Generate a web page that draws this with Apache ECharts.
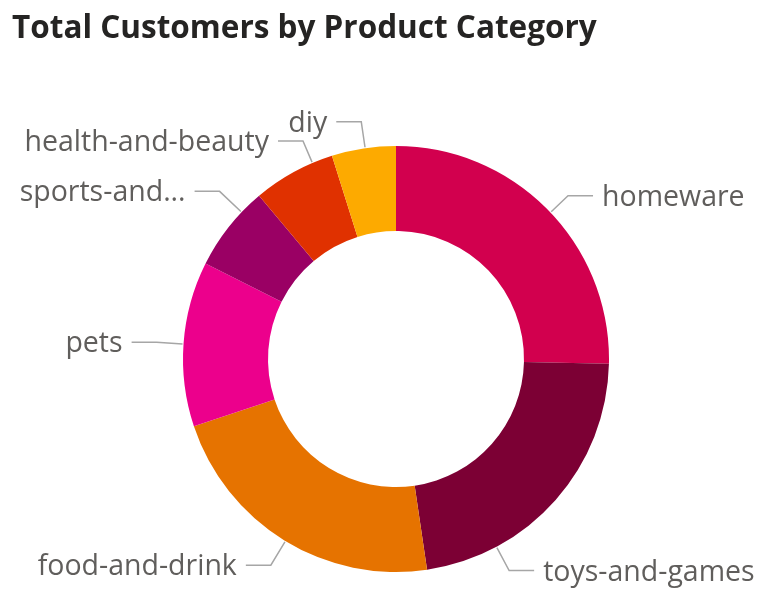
<!DOCTYPE html>
<html style="height: 100%">
<head>
    <meta charset="utf-8">
    <title>Total Customers by Product Category</title>
    <script src="https://cdn.jsdelivr.net/npm/echarts@6/dist/echarts.min.js"></script>
</head>
<body style="margin: 0; height: 100%; background: #fff">
    <div id="main" style="width: 784px; height: 603px"></div>
    <script>
        // Kategorier och antal kunder
        const categories = ['homeware', 'toys-and-games', 'food-and-drink', 'pets',
            'sports-and-outdoors', 'health-and-beauty', 'diy'];
        const customers = [2536, 2231, 2222, 1250, 650, 625, 486];
        const colors = ['#D2004E', '#7C0034', '#E67300', '#EC008C', '#9A0064', '#E03100', '#FDAA00'];

        // Flyttar etiketterna ungefär dit Power BI lägger dem
        const labelShift = {
            'homeware': [5, 3],
            'toys-and-games': [-62, 58],
            'food-and-drink': [-3, 8],
            'pets': [-6, 2],
            'sports-and-outdoors': [7, -20],
            'health-and-beauty': [19, -10],
            'diy': [0, -3]
        };

        const CENTER = [396, 359];
        const R_INNER = 128;
        const R_OUTER = 213;
        const GAP = 9;
        const LEN2 = 25;

        const chart = echarts.init(document.getElementById('main'));

        const pieData = categories.map((name, i) => {
            const item = { name: name, value: customers[i], itemStyle: { color: colors[i] } };
            if (name === 'sports-and-outdoors') {
                item.label = { width: 170, overflow: 'truncate', ellipsis: '...' };
            }
            if (name === 'toys-and-games') {
                item.label = { width: 230 };
            }
            return item;
        });

        // Etikettlinje: vågrätt stycke vid texten, sedan rakt in mot ringens ytterkant
        function guidePoints(x, y, right) {
            const dir = right ? 1 : -1;
            const p2 = [x + dir * GAP, y - 2];
            const p1 = [p2[0] + dir * LEN2, y - 2];
            const dx = p1[0] - CENTER[0];
            const dy = p1[1] - CENTER[1];
            const len = Math.sqrt(dx * dx + dy * dy);
            const k = (R_OUTER + 1) / len;
            const p0 = [CENTER[0] + dx * k, CENTER[1] + dy * k];
            return [p0, p1, p2];
        }

        chart.setOption({
            animation: false,
            title: {
                text: 'Total Customers by Product Category',
                left: 7,
                top: 8,
                textStyle: {
                    fontFamily: 'Open Sans',
                    fontWeight: 'bold',
                    fontSize: 31.5,
                    color: '#252423'
                }
            },
            series: [{
                type: 'pie',
                center: CENTER,
                radius: [R_INNER, R_OUTER],
                startAngle: 90,
                clockwise: true,
                avoidLabelOverlap: false,
                itemStyle: { borderWidth: 0 },
                label: {
                    show: true,
                    position: 'outside',
                    fontFamily: 'Open Sans',
                    fontSize: 28.5,
                    color: '#605E5C',
                    distanceToLabelLine: 8
                },
                labelLine: {
                    show: true,
                    length: 22,
                    length2: 25,
                    lineStyle: { color: '#A6A6A6', width: 1.5 }
                },
                labelLayout: function (params) {
                    const shift = labelShift[categories[params.dataIndex]] || [0, 0];
                    const r = params.labelRect;
                    const right = params.align === 'right';
                    const x = (right ? r.x + r.width : r.x) + shift[0];
                    const y = r.y + r.height / 2 + shift[1];
                    return {
                        x: x,
                        y: y,
                        labelLinePoints: guidePoints(x, y, right)
                    };
                },
                emphasis: { disabled: true },
                data: pieData
            }]
        });
    </script>
</body>
</html>
